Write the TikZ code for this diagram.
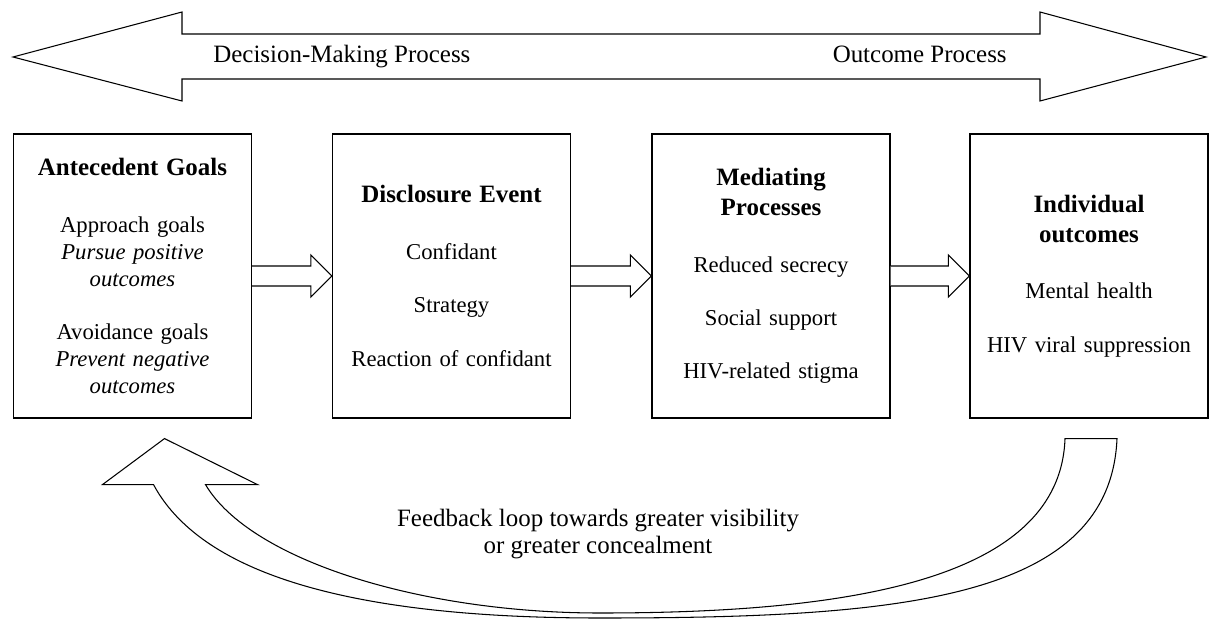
\documentclass[tikz,border=0pt]{standalone}
\usepackage{fontspec}
\setmainfont{Liberation Serif}
\usetikzlibrary{calc}
\setlength{\parindent}{0pt}

\newcommand{\stagetitle}[1]{{\fontsize{14.2}{17}\selectfont\bfseries #1\par}\vspace{17pt}}

\tikzset{
    stage/.style={draw, line width=0.7pt, fill=white, minimum width=4.76cm, minimum height=5.68cm,
        text width=4.5cm, align=center, inner sep=1pt, font=\fontsize{12.9}{15.3}\selectfont},
    blockarrow/.style={draw, line width=0.6pt, fill=white, line join=miter},
    biglabel/.style={font=\fontsize{14.2}{15.3}\selectfont, inner sep=0pt}
}

\begin{document}
\begin{tikzpicture}[x=0.02cm, y=-0.02cm]
        \useasboundingbox (0,0) rectangle (1209,621);
        %! --- Process direction ---
        \draw[blockarrow] (13,57) -- (182,12) -- (182,34) -- (1040,34) -- (1040,12) -- (1206,57)
            -- (1040,101) -- (1040,79) -- (182,79) -- (182,101) -- cycle;
        \node[biglabel, anchor=base west] (decide) at (213,63) {Decision-Making Process};
        \node[biglabel, anchor=base east] (result) at (1007,63) {Outcome Process};

        %! --- Stages ---
        \node[stage] (ante) at (132.5,276) {\stagetitle{Antecedent Goals}Approach goals\\
            \textit{Pursue positive}\\ \textit{outcomes}\\[15pt]
            Avoidance goals\\ \textit{Prevent negative}\\ \textit{outcomes}};
        \node[stage] (disc) at (451.5,276) {\stagetitle{Disclosure Event}Confidant\\[15pt]
            Strategy\\[15pt] Reaction of confidant};
        \node[stage] (medi) at (771,276) {\stagetitle{Mediating\\Processes}Reduced secrecy\\[15pt]
            Social support\\[15pt] HIV-related stigma};
        \node[stage] (outc) at (1089,276) {\stagetitle{Individual\\outcomes}Mental health\\[15pt]
            HIV viral suppression};

        % Arrows between stages
        \foreach \a/\b in {ante/disc, disc/medi, medi/outc} {
            \draw[blockarrow] ($(\a.east)+(0,-10)$) -- ($(\b.west)+(-21,-10)$) -- ($(\b.west)+(-21,-21)$)
                -- (\b.west) -- ($(\b.west)+(-21,21)$) -- ($(\b.west)+(-21,10)$) -- ($(\a.east)+(0,10)$);
        }

        %! --- Feedback loop ---
        \coordinate (fbtip) at ($(ante.south)+(32,20)$);
        \coordinate (fbtail) at ($(outc.south)+(2,20)$);
        \draw[blockarrow] (fbtip) -- ($(fbtip)+(93,46)$) -- ($(fbtip)+(41,46)$)
            .. controls (250,560) and (420,613) .. (600,613)
            .. controls (850,613) and (1060,580) .. ($(fbtail)+(-26,0)$)
            -- ($(fbtail)+(26,0)$)
            .. controls (1110,600) and (900,618) .. (600,618)
            .. controls (400,618) and (210,590) .. ($(fbtip)+(-11,46)$)
            -- ($(fbtip)+(-62,46)$) -- cycle;
        \node[biglabel, align=center] (loop) at (598,534) {Feedback loop towards greater visibility\\or greater concealment};
    \end{tikzpicture}
\end{document}
